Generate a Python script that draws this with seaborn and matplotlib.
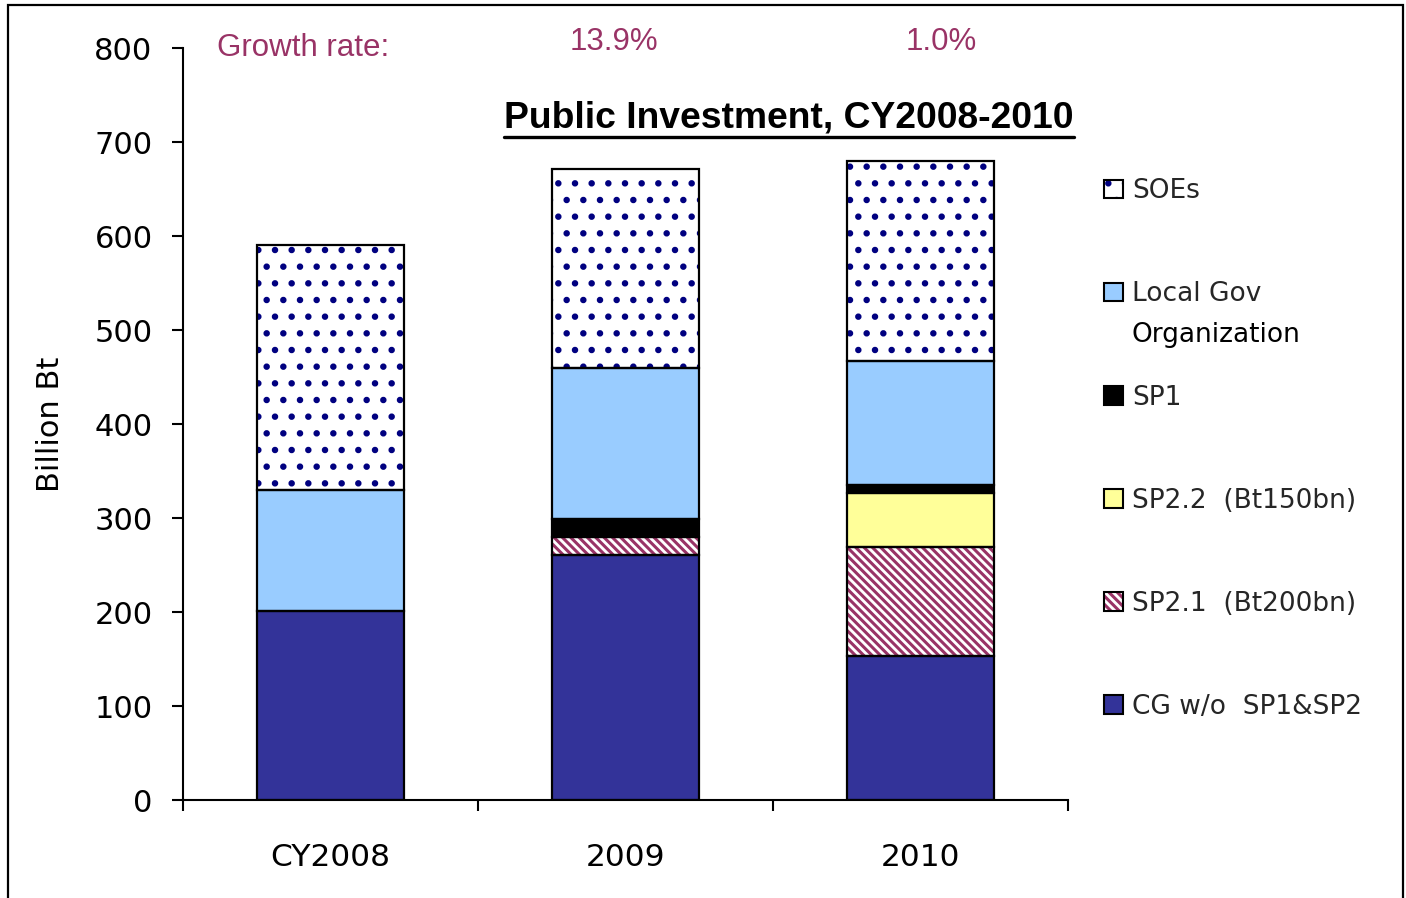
import numpy as np
import pandas as pd
import seaborn as sns
import matplotlib.pyplot as plt
import matplotlib.patches as mpatches
from matplotlib.lines import Line2D
from matplotlib.legend_handler import HandlerTuple

# Public investment by component, billion baht
years = ["CY2008", "2009", "2010"]
cg_wo_sp = [201, 261, 153]
sp21 = [0, 19, 116]
sp22 = [0, 0, 58]
sp1 = [0, 19, 8]
local_gov = [129, 161, 132]
soes = [260, 211, 213]

growth_title = "Growth rate:"
growth_labels = ["13.9%", "1.0%"]

series_names = ["CG w/o  SP1&SP2", "SP2.1  (Bt200bn)", "SP2.2  (Bt150bn)",
                "SP1", "Local Gov", "SOEs"]
lgo_second_line = "Organization"

sns.set_theme(style="white")
plt.rcParams["font.family"] = ["DejaVu Sans"]
plt.rcParams["hatch.linewidth"] = 2.2

# (values, face colour, hatch, hatch colour) from bottom to top of the stack
layers = [
    (cg_wo_sp, "#333399", None, "#333399"),
    (sp21, "white", "\\\\\\\\", "#993366"),
    (sp22, "#FFFF99", None, "#FFFF99"),
    (sp1, "black", None, "black"),
    (local_gov, "#99CCFF", None, "#99CCFF"),
    (soes, "white", ".", "#000080"),
]

fig = plt.figure(figsize=(14.06, 8.98), dpi=100)
ax = fig.add_axes([0.1302, 0.1091, 0.6294, 0.8374])

bottoms = np.zeros(len(years))
for vals, face, hatch, hcol in layers:
    vals = np.asarray(vals, dtype=float)
    n_before = len(ax.patches)
    sns.barplot(x=years, y=vals, color=face, saturation=1, width=0.5,
                edgecolor=hcol, linewidth=0, hatch=hatch, ax=ax, zorder=2)
    new = ax.patches[n_before:]
    for p, b, v in zip(new, bottoms, vals):
        p.set_y(b)
        if v > 0:
            ax.add_patch(mpatches.Rectangle((p.get_x(), b), p.get_width(), v,
                                            fill=False, edgecolor="black",
                                            linewidth=1.6, zorder=3))
    bottoms = bottoms + vals

ax.set_xlim(-0.5, 2.5)
ax.set_ylim(0, 800)
ax.set_yticks(np.arange(0, 801, 100))
ax.set_xticks(range(len(years)))
ax.set_xticklabels(years)
ax.set_xticks([-0.5, 0.5, 1.5, 2.5], minor=True)
ax.set_xlabel("")
ax.set_ylabel("Billion Bt", fontsize=22, color="black")
ax.yaxis.set_label_coords(-0.133, 0.5)

for s in ["top", "right"]:
    ax.spines[s].set_visible(False)
for s in ["left", "bottom"]:
    ax.spines[s].set_color("black")
    ax.spines[s].set_linewidth(1.5)

ax.tick_params(axis="y", which="major", direction="out", length=8, width=1.5,
               labelsize=22, colors="black", pad=14, left=True)
ax.tick_params(axis="x", which="major", length=0, labelsize=22.5,
               colors="black", pad=31)
ax.tick_params(axis="x", which="minor", direction="out", length=8, width=1.5,
               bottom=True, color="black")

# growth rate annotations
plum = "#993366"
ax.text(0.0384, 1.0, growth_title, transform=ax.transAxes, ha="left",
        va="center", fontsize=22.5, color=plum, family="Liberation Sans")
for xpos, lab in zip([0.487, 0.8565], growth_labels):
    ax.text(xpos, 1.008, lab, transform=ax.transAxes, ha="center",
            va="center", fontsize=22.5, color=plum, family="Liberation Sans")

# underlined title
title = ax.text(0.685, 0.907, "Public Investment, CY2008-2010",
                transform=ax.transAxes, ha="center", va="center",
                fontsize=26.8, fontweight="bold", family="Liberation Sans",
                color="black")

# legend, top entry first; each key is a fill patch plus a black outline
handles = []
for vals, face, hatch, hcol in layers:
    fill = mpatches.Patch(facecolor=face, edgecolor=hcol, hatch=hatch,
                          linewidth=0)
    outline = mpatches.Patch(facecolor="none", edgecolor="black",
                             linewidth=1.5)
    handles.append((fill, outline))
handles = handles[::-1]
labels = series_names[::-1]
leg = fig.legend(handles, labels, loc="upper left",
                 handler_map={tuple: HandlerTuple(ndivide=1, pad=0)},
                 bbox_to_anchor=(0.776, 0.816), frameon=False, fontsize=19,
                 handlelength=0.7, handleheight=0.7, handletextpad=0.35,
                 labelspacing=2.92, borderpad=0)

fig.canvas.draw()
bb = title.get_window_extent().transformed(fig.transFigure.inverted())
uy = bb.y0 + 0.08 * bb.height - 0.005
fig.add_artist(Line2D([bb.x0, bb.x1], [uy, uy], color="black",
                      linewidth=2.4, transform=fig.transFigure))

# continuation line of the two-line legend label
lgo_text = [t for t in leg.get_texts() if t.get_text() == "Local Gov"][0]
tb = lgo_text.get_window_extent().transformed(fig.transFigure.inverted())
fig.text(tb.x0, tb.y0 - 41 / 898, lgo_second_line, ha="left", va="bottom",
         fontsize=19, color="black")

# outer frame
fig.add_artist(mpatches.Rectangle((8 / 1406, -0.02), 1395 / 1406,
                                  1 - 5 / 898 + 0.02, fill=False,
                                  edgecolor="black", linewidth=1.6,
                                  transform=fig.transFigure, clip_on=False))

fig.savefig("out.png", dpi=100)
